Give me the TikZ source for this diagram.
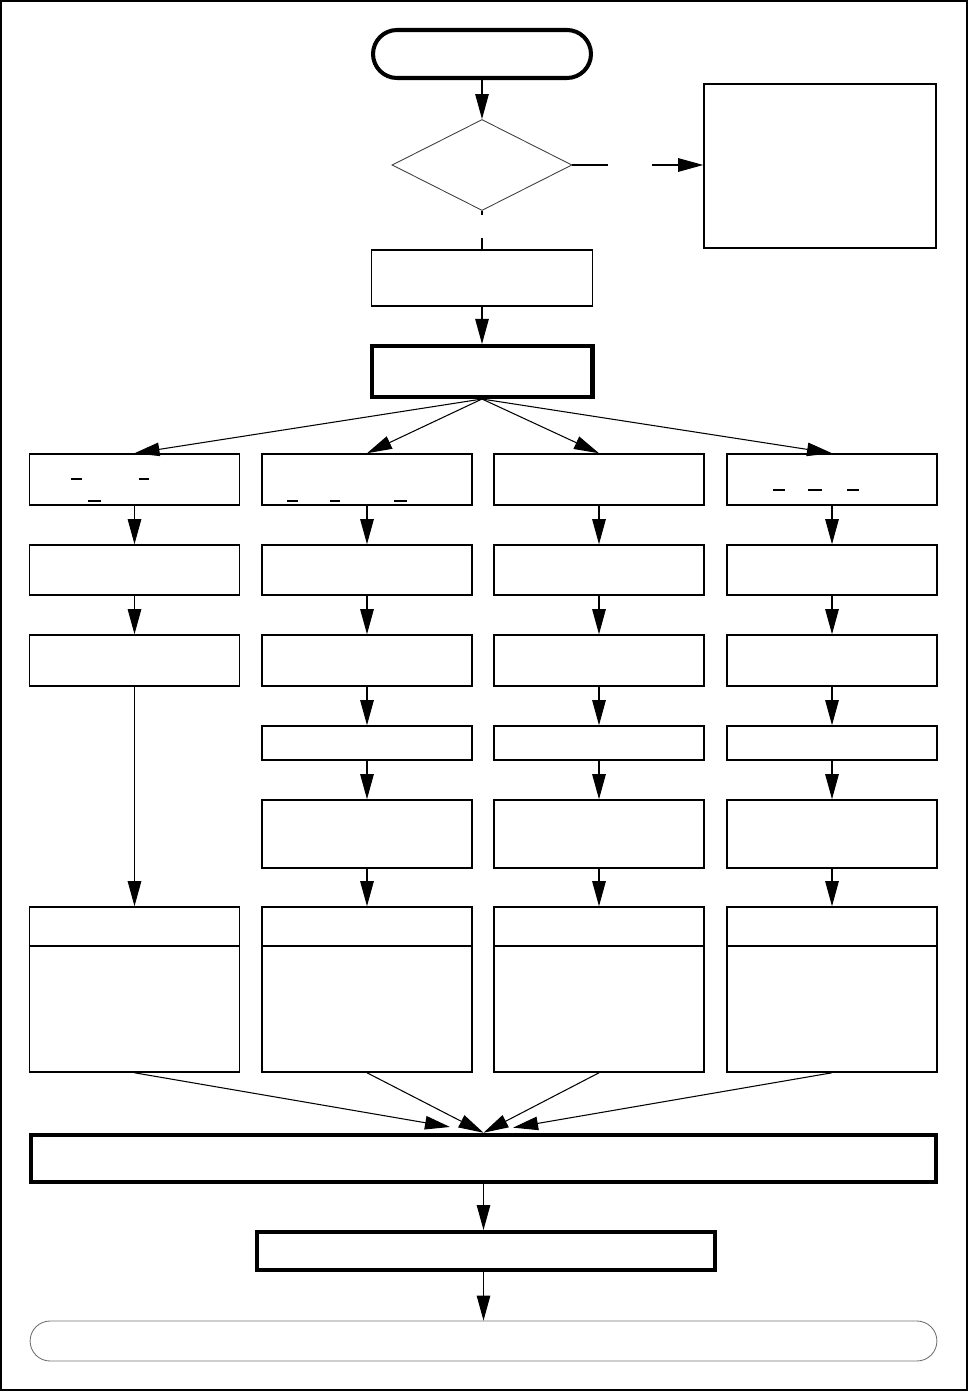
\documentclass[tikz,border=0pt]{standalone}
\usepackage{tikz}
\usetikzlibrary{arrows.meta, positioning, shapes.geometric, shapes.misc}

\begin{document}
\begin{tikzpicture}[
		x=0.02cm, y=-0.02cm,
		box/.style={draw, line width=0.9pt, minimum width=4.2cm, inner sep=0pt},
		tbox/.style={draw, line width=2.3pt, inner sep=0pt},
		term/.style={draw, rounded rectangle, inner sep=0pt},
		arr/.style={-{Triangle[length=0.5cm, width=0.27cm]}, line width=0.6pt},
		link/.style={line width=0.6pt},
		gap/.style={fill=white, inner sep=0pt}
	]
		\useasboundingbox (0,0) rectangle (969,1392);
		\draw[line width=1.2pt] (1,1) rectangle (967,1390);
		% main column
		\node[term, line width=2.3pt, minimum width=4.36cm, minimum height=0.96cm] (start) at (482,54) {};
		\node[diamond, draw=black!75, line width=0.5pt, aspect=2, minimum width=3.6cm, minimum height=1.82cm, inner sep=0pt] (check) at (482,165) {};
		\node[box, minimum width=4.64cm, minimum height=3.28cm] (note) at (820,166) {};
		\node[box, minimum width=4.42cm, minimum height=1.12cm] (prep) at (482,278) {};
		\node[tbox, minimum width=4.42cm, minimum height=1.02cm] (split) at (482,371.5) {};
		% four branches
		\node[box, minimum height=1.02cm] (a1) at (134.5,479.5) {};
		\node[box, minimum height=1.0cm] (a2) at (134.5,570) {};
		\node[box, minimum height=1.02cm] (a3) at (134.5,660.5) {};
		\node[box, minimum height=3.3cm] (a6) at (134.5,989.5) {};
		\node[box, minimum height=1.02cm] (b1) at (367,479.5) {};
		\node[box, minimum height=1.0cm] (b2) at (367,570) {};
		\node[box, minimum height=1.02cm] (b3) at (367,660.5) {};
		\node[box, minimum height=0.68cm] (b4) at (367,743) {};
		\node[box, minimum height=1.36cm] (b5) at (367,834) {};
		\node[box, minimum height=3.3cm] (b6) at (367,989.5) {};
		\node[box, minimum height=1.02cm] (c1) at (599,479.5) {};
		\node[box, minimum height=1.0cm] (c2) at (599,570) {};
		\node[box, minimum height=1.02cm] (c3) at (599,660.5) {};
		\node[box, minimum height=0.68cm] (c4) at (599,743) {};
		\node[box, minimum height=1.36cm] (c5) at (599,834) {};
		\node[box, minimum height=3.3cm] (c6) at (599,989.5) {};
		\node[box, minimum height=1.02cm] (d1) at (832,479.5) {};
		\node[box, minimum height=1.0cm] (d2) at (832,570) {};
		\node[box, minimum height=1.02cm] (d3) at (832,660.5) {};
		\node[box, minimum height=0.68cm] (d4) at (832,743) {};
		\node[box, minimum height=1.36cm] (d5) at (832,834) {};
		\node[box, minimum height=3.3cm] (d6) at (832,989.5) {};
		\draw[line width=0.9pt] ([yshift=-0.8cm]a6.north west) -- ([yshift=-0.8cm]a6.north east);
		\draw[line width=0.9pt] ([yshift=-0.8cm]b6.north west) -- ([yshift=-0.8cm]b6.north east);
		\draw[line width=0.9pt] ([yshift=-0.8cm]c6.north west) -- ([yshift=-0.8cm]c6.north east);
		\draw[line width=0.9pt] ([yshift=-0.8cm]d6.north west) -- ([yshift=-0.8cm]d6.north east);
		\draw[line width=1.1pt] (71,479) -- (82,479) (139,479) -- (149,479) (88,501) -- (101,501)
			(287,501) -- (298,501) (330,501) -- (340,501) (394,501) -- (407,501);
		\draw[line width=0.6pt] (773,490) -- (785,490) (808,490) -- (822,490) (847,490) -- (859,490);
		% bottom
		\node[tbox, line width=2.6pt, minimum width=18.1cm, minimum height=0.94cm] (merge) at (483.5,1158.5) {};
		\node[tbox, minimum width=9.16cm, minimum height=0.76cm] (out) at (486,1251) {};
		\node[term, draw=black!55, line width=0.5pt, minimum width=18.14cm, minimum height=0.8cm] (stop) at (483.5,1341) {};
		\draw[arr] (start) -- (check);
		\draw[link] (check) -- node[gap, pos=0.41, minimum width=0.3cm, minimum height=0.46cm] {} (prep);
		\draw[arr] (check) -- node[gap, pos=0.44, minimum width=0.88cm, minimum height=0.3cm] {} (check.east -| note.west);
		\draw[arr] (prep) -- (split);
		\draw[arr] (split.south) -- (a1.north);
		\draw[arr] (split.south) -- (b1.north);
		\draw[arr] (split.south) -- (c1.north);
		\draw[arr] (split.south) -- (d1.north);
		\draw[arr] (a1) -- (a2);
		\draw[arr] (a2) -- (a3);
		\draw[arr] (a3) -- (a6);
		\draw[arr] (b1) -- (b2);
		\draw[arr] (b2) -- (b3);
		\draw[arr] (b3) -- (b4);
		\draw[arr] (b4) -- (b5);
		\draw[arr] (b5) -- (b6);
		\draw[arr] (c1) -- (c2);
		\draw[arr] (c2) -- (c3);
		\draw[arr] (c3) -- (c4);
		\draw[arr] (c4) -- (c5);
		\draw[arr] (c5) -- (c6);
		\draw[arr] (d1) -- (d2);
		\draw[arr] (d2) -- (d3);
		\draw[arr] (d3) -- (d4);
		\draw[arr] (d4) -- (d5);
		\draw[arr] (d5) -- (d6);
		\draw[arr, shorten >=0.68cm] (a6.south) -- (merge.north);
		\draw[arr] (b6.south) -- (merge.north);
		\draw[arr] (c6.south) -- (merge.north);
		\draw[arr, shorten >=0.6cm] (d6.south) -- (merge.north);
		\draw[arr] (merge) -- (merge |- out.north);
		\draw[arr] (merge |- out.south) -- (merge |- stop.north);
	\end{tikzpicture}
\end{document}
